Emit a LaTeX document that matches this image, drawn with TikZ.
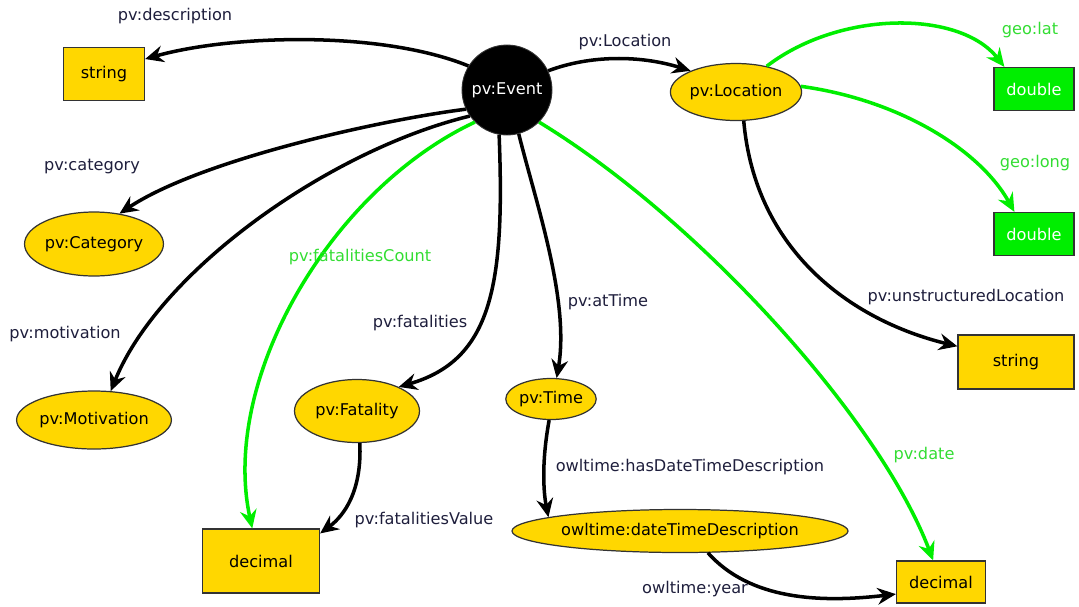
\documentclass[tikz,border=0pt]{standalone}
\usepackage{fontspec}
\setmainfont{DejaVu Sans}
\usetikzlibrary{shapes.geometric,arrows.meta}
\definecolor{gold}{HTML}{FFD700}
\definecolor{brightgreen}{HTML}{00EE00}
\definecolor{lblgreen}{HTML}{33DD33}
\definecolor{lbl}{HTML}{1E1E3C}
\definecolor{bord}{HTML}{333333}
\begin{document}
\begin{tikzpicture}[x=0.02cm,y=-0.02cm,
 every node/.style={font=\fontsize{9.2pt}{11pt}\selectfont, inner sep=0pt},
 ybox/.style={rectangle,draw=bord,fill=gold,line width=0.7pt},
 yell/.style={ellipse,draw=bord,fill=gold,line width=0.7pt},
 gbox/.style={rectangle,draw=bord,fill=brightgreen,line width=0.7pt,text=white},
 arr/.style={line width=2pt,-{Stealth[length=10.5pt,width=9.5pt,inset=3.5pt]}},
 garr/.style={arr,draw=brightgreen},
 lab/.style={text=lbl},
 glab/.style={text=lblgreen},
]
\useasboundingbox (0,0) rectangle (1079,606);

% nodes
\node[circle,fill=black,draw=bord,line width=0.5pt,minimum size=1.8cm,text=white] (ev) at (507,90) {pv:Event};
\node[ybox,minimum width=1.62cm,minimum height=1.06cm] (str1) at (104,74) {string};
\node[yell,minimum width=2.48cm,minimum height=1.28cm] (cat) at (94,244) {pv:Category};
\node[yell,minimum width=2.48cm,minimum height=1.16cm] (mot) at (94,420) {pv:Motivation};
\node[yell,minimum width=2.46cm,minimum height=1.14cm] (loc) at (736,92) {pv:Location};
\node[gbox,minimum width=1.6cm,minimum height=0.86cm] (dbl1) at (1034,89) {double};
\node[gbox,minimum width=1.6cm,minimum height=0.86cm] (dbl2) at (1034,234) {double};
\node[ybox,minimum width=2.32cm,minimum height=1.08cm] (str2) at (1016,362) {string};
\node[yell,minimum width=2.5cm,minimum height=1.26cm] (fat) at (357,411) {pv:Fatality};
\node[yell,minimum width=1.8cm,minimum height=0.82cm] (time) at (551,399) {pv:Time};
\node[yell,minimum width=5.88cm,minimum height=0.86cm] (dtd) at (680,531) {owltime:dateTimeDescription};
\node[ybox,minimum width=2.34cm,minimum height=1.28cm] (dec1) at (261,561) {decimal};
\node[ybox,minimum width=1.78cm,minimum height=0.84cm] (dec2) at (941,582) {decimal};

% edges
\draw[arr] (ev.148) .. controls (380,30) and (230,35) .. (str1.20);
\draw[arr] (ev.205) .. controls (380,120) and (200,160) .. (cat.50);
\draw[arr] (ev.215) .. controls (330,150) and (160,270) .. (mot.60);
\draw[garr] (ev.225) .. controls (330,190) and (220,380) .. (dec1.105);
\draw[arr] (ev.260) .. controls (505,285) and (492,360) .. (fat.30);
\draw[arr] (ev.285) .. controls (535,200) and (570,300) .. (time.75);
\draw[garr] (ev.315) .. controls (700,220) and (880,420) .. (dec2.110);
\draw[arr] (ev.25) .. controls (590,55) and (640,55) .. (loc.155);
\draw[garr] (loc.40) .. controls (840,10) and (960,10) .. ([xshift=0.22cm]dbl1.north west);
\draw[garr] (loc.5) .. controls (900,100) and (980,150) .. ([xshift=0.42cm]dbl2.north west);
\draw[arr] (loc.285) .. controls (755,250) and (850,320) .. (str2.165);
\draw[arr] (fat.275) .. controls (362,490) and (345,515) .. (dec1.25);
\draw[arr] (time.265) .. controls (540,470) and (545,500) .. (dtd.174);
\draw[arr] (dtd.322) .. controls (750,600) and (820,603) .. (dec2.195);

% labels
\node[lab] (l1) at (175,16) {pv:description};
\node[lab] (l2) at (625,42) {pv:Location};
\node[glab] (l3) at (1030,30) {geo:lat};
\node[glab] (l4) at (1035,163) {geo:long};
\node[lab] (l5) at (92,166) {pv:category};
\node[glab] (l6) at (360,257) {pv:fatalitiesCount};
\node[lab] (l7) at (608,302) {pv:atTime};
\node[lab] (l8) at (966,297) {pv:unstructuredLocation};
\node[lab] (l9) at (65,334) {pv:motivation};
\node[lab] (l10) at (420,323) {pv:fatalities};
\node[lab] (l11) at (690,467) {owltime:hasDateTimeDescription};
\node[glab] (l12) at (924,455) {pv:date};
\node[lab] (l13) at (424,520) {pv:fatalitiesValue};
\node[lab] (l14) at (695,589) {owltime:year};
\end{tikzpicture}
\end{document}
